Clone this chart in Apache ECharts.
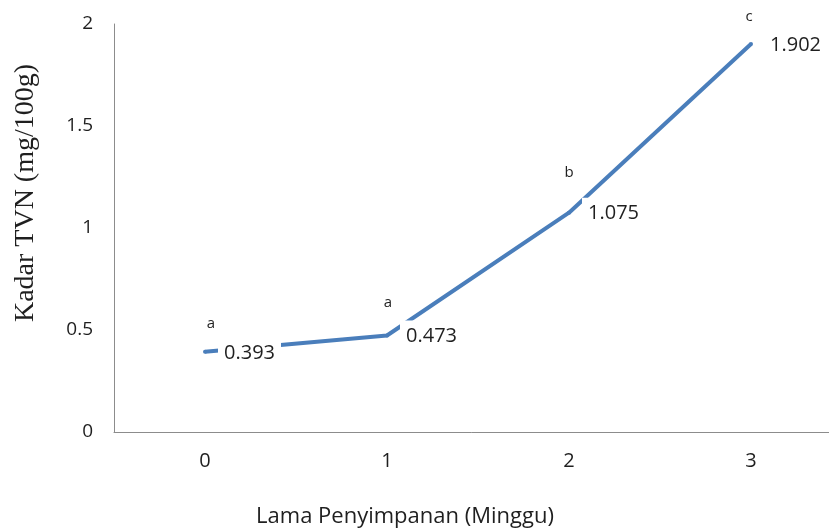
<!DOCTYPE html>
<html>
<head>
<meta charset="utf-8">
<script src="https://cdn.jsdelivr.net/npm/echarts@6/dist/echarts.min.js"></script>
<style>
  html, body { margin: 0; padding: 0; background: #fff; overflow: hidden; }
  #chart { width: 829px; height: 532px; }
</style>
</head>
<body>
<div id="chart"></div>
<script>
// Storage time in weeks and TVN content (mg/100g)
const weeks = ['0', '1', '2', '3'];
const tvn = [0.393, 0.473, 1.075, 1.902];
// Significance letters shown above each point
const letters = ['a', 'a', 'b', 'c'];
const yTicks = [0, 0.5, 1, 1.5, 2];

// Pixel nudges [dx, dy] for each significance letter relative to its point
const letterNudge = [[6, -28], [1, -33], [0, -40], [-2, -27]];

const lineColor = '#4A7EBB';
const textColor = '#1f1f1f';
const axisColor = '#8c8c8c';

const chart = echarts.init(document.getElementById('chart'), null, { renderer: 'canvas' });

chart.setOption({
  backgroundColor: '#ffffff',
  animation: false,
  grid: {
    left: 114, top: 24, width: 728, height: 408,
    containLabel: false,
    outerBoundsMode: 'none'
  },
  xAxis: {
    type: 'category',
    data: weeks,
    boundaryGap: true,
    axisLine: { show: true, lineStyle: { color: axisColor, width: 1 } },
    axisTick: { show: false },
    axisLabel: { margin: 19, fontSize: 20, fontFamily: 'Open Sans', color: textColor }
  },
  yAxis: {
    type: 'value',
    min: yTicks[0],
    max: yTicks[yTicks.length - 1],
    interval: yTicks[1] - yTicks[0],
    axisLine: { show: true, lineStyle: { color: axisColor, width: 1 } },
    axisTick: { show: false },
    splitLine: { show: false },
    axisLabel: { margin: 21, fontSize: 19, fontFamily: 'Open Sans', color: textColor }
  },
  graphic: [
    {
      type: 'text',
      x: 26, y: 193,
      rotation: Math.PI / 2,
      style: {
        text: 'Kadar TVN (mg/100g)',
        font: '28px "Liberation Serif"',
        fill: textColor,
        align: 'center',
        verticalAlign: 'middle'
      }
    },
    {
      type: 'text',
      x: 405, y: 517,
      style: {
        text: 'Lama Penyimpanan (Minggu)',
        font: '22px "Open Sans"',
        fill: textColor,
        align: 'center',
        verticalAlign: 'middle'
      }
    }
  ],
  series: [
    {
      type: 'line',
      data: tvn,
      symbol: 'circle',
      symbolSize: 4,
      itemStyle: { color: lineColor },
      lineStyle: { color: lineColor, width: 4 },
      z: 2,
      label: {
        show: true,
        position: 'right',
        distance: 11,
        offset: [0, 1],
        fontSize: 20,
        fontFamily: 'Open Sans',
        color: textColor,
        backgroundColor: '#ffffff',
        padding: [7, 6, 5, 6]
      }
    },
    {
      type: 'line',
      data: tvn.map((v, i) => ({
        value: v,
        label: { offset: letterNudge[i] }
      })),
      symbol: 'circle',
      symbolSize: 1,
      itemStyle: { color: 'rgba(0,0,0,0)' },
      lineStyle: { width: 0, opacity: 0 },
      z: 3,
      label: {
        show: true,
        position: 'inside',
        formatter: (p) => letters[p.dataIndex],
        fontSize: 15,
        fontFamily: 'Open Sans',
        color: textColor
      }
    }
  ]
});
</script>
</body>
</html>
